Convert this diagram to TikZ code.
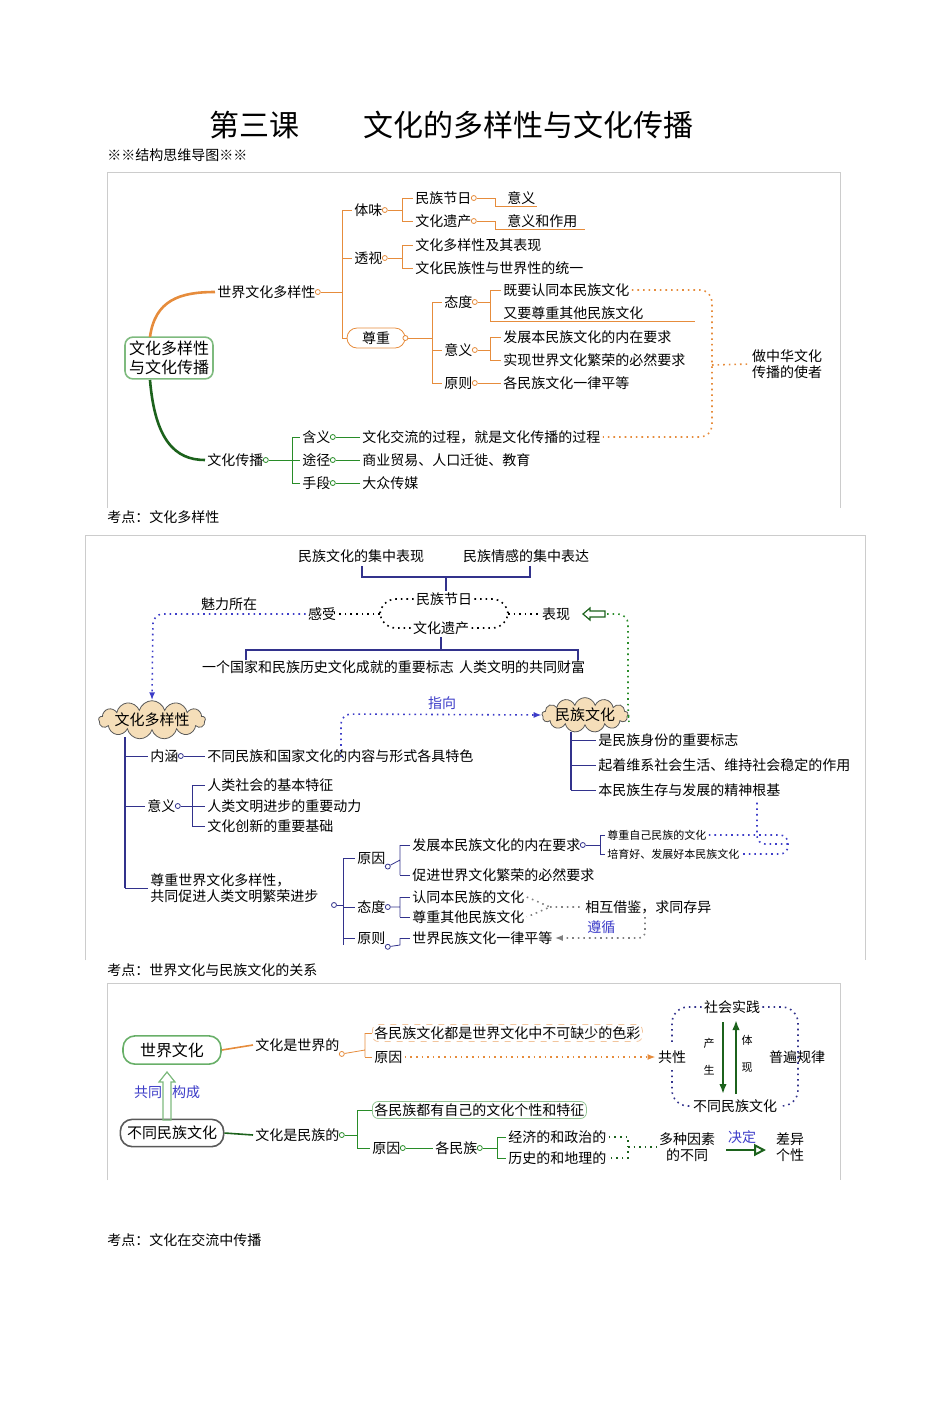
\documentclass[tikz,border=0pt]{standalone}
\usepackage{fontspec}
\setmainfont{Noto Sans CJK SC}
\usetikzlibrary{arrows.meta,shapes.symbols}
\definecolor{org}{RGB}{230,140,60}
\definecolor{grn}{RGB}{40,140,40}
\definecolor{nav}{RGB}{50,50,140}
\definecolor{blu}{RGB}{60,60,200}
\definecolor{cl}{RGB}{245,222,185}
\tikzset{x=0.5pt,y=-0.5pt,
 t/.style={anchor=west,inner sep=1pt,font=\fontsize{7}{8}\selectfont},
 tc/.style={inner sep=1pt,font=\fontsize{7}{8}\selectfont,align=center},
 o/.style={circle,draw,inner sep=0,minimum size=2.5pt,fill=white},
 dots/.style={dotted,line width=0.8pt},
 cloud0/.style={cloud,cloud puffs=13,cloud ignores aspect,draw=gray!70!black,fill=cl,inner sep=0pt,font=\fontsize{7.5}{8}\selectfont}}
\begin{document}
\begin{tikzpicture}
\path[use as bounding box] (0,0) rectangle (950,1421);
% titles
\node[font=\fontsize{15}{16}\selectfont] (tt1) at (254,125) {第三课};
\node[font=\fontsize{15}{16}\selectfont] (tt2) at (528,125) {文化的多样性与文化传播};
\node[t] (sub) at (105,155) {※※结构思维导图※※};
\node[t] (k1) at (105,517) {考点：文化多样性};
\node[t] (k2) at (105,970) {考点：世界文化与民族文化的关系};
\node[t] (k3) at (105,1240) {考点：文化在交流中传播};
% ===== diagram 1 =====
\draw[gray!40] (107,508)--(107,172)--(840,172)--(840,508);
\node[draw=grn!60,rounded corners=4pt,line width=0.8pt,align=left,font=\fontsize{8}{9.5}\selectfont,inner sep=2pt] (root) at (169,358) {文化多样性\\与文化传播};
\node[t] (w) at (215,292) {世界文化多样性};
\draw[org,line width=1.3pt] (150,337) .. controls (155,300) and (180,292) .. (w.west);
\node[o,draw=org] (wo) at (w.east) {};
\draw[org] (wo) -- (342,292);
\draw[org] (342,210)--(342,338);
\node[t] (tw) at (352,210) {体味}; \node[o,draw=org] (two) at (tw.east) {};
\node[t] (ts) at (352,258) {透视}; \node[o,draw=org] (tso) at (ts.east) {};
\node[draw=org,rounded corners=5pt,minimum width=29pt,minimum height=10pt,tc] (zz) at (376,338) {尊重}; \node[o,draw=org] (zzo) at (zz.east) {};
\draw[org] (342,210)--(tw.west) (342,258)--(ts.west) (342,338)--(zz.west);
\draw[org] (two)--(402,210) (402,198)--(402,221);
\node[t] (a1) at (413,198) {民族节日}; \node[o,draw=org] (a1o) at (a1.east) {};
\node[t] (a2) at (413,221) {文化遗产}; \node[o,draw=org] (a2o) at (a2.east) {};
\draw[org] (402,198)--(a1.west) (402,221)--(a2.west);
\node[t] (b1) at (505,198) {意义}; \node[t] (b2) at (505,221) {意义和作用};
\draw[org] (a1o)--(495,198)--(495,206)--(537,206); \draw[org] (a2o)--(495,221)--(495,229)--(585,229);
\draw[org] (tso)--(402,258) (402,245)--(402,268);
\node[t] (c1) at (413,245) {文化多样性及其表现}; \node[t] (c2) at (413,268) {文化民族性与世界性的统一};
\draw[org] (402,245)--(c1.west) (402,268)--(c2.west);
\draw[org] (zzo)--(432,338) (432,302)--(432,383);
\node[t] (d1) at (442,302) {态度}; \node[o,draw=org] (d1o) at (d1.east) {};
\node[t] (d2) at (442,350) {意义}; \node[o,draw=org] (d2o) at (d2.east) {};
\node[t] (d3) at (442,383) {原则}; \node[o,draw=org] (d3o) at (d3.east) {};
\draw[org] (432,302)--(d1.west) (432,350)--(d2.west) (432,383)--(d3.west);
\draw[org] (d1o)--(490,302) (490,290)--(490,321)--(695,321) (d2o)--(490,350) (490,337)--(490,360);
\node[t] (e1) at (501,290) {既要认同本民族文化}; \node[t] (e2) at (501,313) {又要尊重其他民族文化};
\node[t] (e3) at (501,337) {发展本民族文化的内在要求}; \node[t] (e4) at (501,360) {实现世界文化繁荣的必然要求};
\node[t] (e5) at (501,383) {各民族文化一律平等};
\draw[org] (490,290)--(e1.west) (490,337)--(e3.west) (490,360)--(e4.west) (d3o)--(e5.west);
\node[tc,align=left] (sz) at (787,364) {做中华文化\\传播的使者};
\node[t] (g) at (205,460) {文化传播}; \node[o,draw=grn] (go) at (g.east) {};
\draw[grn!70!black,line width=1.3pt] (150,380) .. controls (155,440) and (175,460) .. (g.west);
\draw[grn] (go)--(292,460) (292,437)--(292,483);
\foreach \y/\a/\b/\n in {437/含义/文化交流的过程，就是文化传播的过程/1,460/途径/商业贸易、人口迁徙、教育/2,483/手段/大众传媒/3}{
 \node[t] (h\n) at (300,\y) {\a}; \node[o,draw=grn] (ho\n) at (h\n.east) {};
 \node[t] (i\n) at (360,\y) {\b};
 \draw[grn] (292,\y)--(h\n.west) (ho\n)--(i\n.west);}
\draw[org,dots,rounded corners=6pt] (e1.east)--(712,290)--(712,437)--(i1.east);
\draw[org,dots] (712,365)--(sz.west);
% ===== diagram 2 =====
\draw[gray!40] (85,960)--(85,535)--(865,535)--(865,960);
\node[tc] (m1) at (361,556) {民族文化的集中表现}; \node[tc] (m2) at (526,556) {民族情感的集中表达};
\draw[nav,line width=0.8pt] (362,566)--(362,577)--(530,577)--(530,566) (446,577)--(446,591);
\node[tc] (jr) at (444,599) {民族节日}; \node[tc] (yc) at (441,628) {文化遗产};
\draw[dots,rounded corners=8pt] (jr.west)--(380,599)--(380,628)--(yc.west) (jr.east)--(508,599)--(508,628)--(yc.east);
\node[tc] (gs) at (322,614) {感受}; \node[tc] (bx) at (556,614) {表现};
\draw[dots] (380,614)--(gs.east) (508,614)--(bx.west);
\draw[nav,line width=0.8pt] (yc.south)--(441,650) (246,660)--(246,650)--(578,650)--(578,660);
\node[tc] (bz) at (328,667) {一个国家和民族历史文化成就的重要标志}; \node[tc] (cf) at (522,667) {人类文明的共同财富};
\node[tc] (ml) at (229,604) {魅力所在};
\node[cloud0,minimum width=53pt,minimum height=18pt] (dy) at (152,720) {文化多样性};
\node[cloud0,minimum width=37pt,minimum height=16pt] (mz) at (585,715) {民族文化};
\draw[blu,dots,-{Latex[length=4pt]},rounded corners=5pt] (gs.west)--(153,614)--(dy.north);
\draw[grn,dots,rounded corners=5pt] (607,614)--(628,614)--(628,712)--(mz.east);
\draw[grn!70!black,line width=0.6pt] (605,611)--(590,611)--(590,608)--(583,614)--(590,620)--(590,617)--(605,617)--cycle;
\node[tc,text=blu] (zx) at (442,703) {指向};
\draw[blu,dots,-{Latex[length=4pt]},rounded corners=5pt] (341,757)--(341,714)--(mz.west);
\draw[nav,line width=0.8pt] (125,737)--(125,888);
\node[t] (nh) at (148,756) {内涵}; \node[o,draw=nav] (nho) at (nh.east) {};
\node[t] (nh1) at (205,756) {不同民族和国家文化的内容与形式各具特色};
\draw[nav] (125,756)--(nh.west) (nho)--(nh1.west);
\node[t] (yy) at (145,806) {意义}; \node[o,draw=nav] (yyo) at (yy.east) {};
\draw[nav] (125,806)--(yy.west) (yyo)--(192,806) (192,785)--(192,826);
\foreach \y/\s/\n in {785/人类社会的基本特征/1,806/人类文明进步的重要动力/2,826/文化创新的重要基础/3}{\node[t] (yy\n) at (205,\y) {\s}; \draw[nav] (192,\y)--(yy\n.west);}
\node[t,align=left] (zs) at (148,888) {尊重世界文化多样性，\\共同促进人类文明繁荣进步};
\draw[nav] (125,888)--(148,888);
\draw[nav,line width=0.8pt] (571,732)--(571,790);
\foreach \y/\s/\n in {740/是民族身份的重要标志/1,765/起着维系社会生活、维持社会稳定的作用/2,790/本民族生存与发展的精神根基/3}{\node[t] (mz\n) at (596,\y) {\s}; \draw[nav] (571,\y)--(mz\n.west);}
\node[o,draw=nav] (zso) at (334,905) {};
\draw[nav] (zso)--(343,905) (343,858)--(343,945);
\node[t] (r1) at (355,858) {原因}; \node[o,draw=nav] (r1o) at (r1.south east) {};
\node[t] (r2) at (355,907) {态度}; \node[o,draw=nav] (r2o) at (r2.east) {};
\node[t] (r3) at (355,938) {原则}; \node[o,draw=nav] (r3o) at (r3.south east) {};
\draw[nav] (343,858)--(r1.west) (343,907)--(r2.west) (343,938)--(r3.west);
\draw[nav] (r1o)--(400,860) (400,845)--(400,875) (r2o)--(400,907) (400,897)--(400,917) (r3o)--(400,945)--(400,938);
\node[t] (s1) at (410,845) {发展本民族文化的内在要求}; \node[o,draw=nav] (s1o) at (s1.east) {};
\node[t] (s2) at (410,875) {促进世界文化繁荣的必然要求};
\node[t] (s3) at (410,897) {认同本民族的文化}; \node[t] (s4) at (410,917) {尊重其他民族文化};
\node[t] (s5) at (410,938) {世界民族文化一律平等};
\draw[nav] (400,845)--(s1.west) (400,875)--(s2.west) (400,897)--(s3.west) (400,917)--(s4.west) (400,938)--(s5.west);
\draw[nav] (s1o)--(600,845) (600,835)--(600,854);
\node[t,font=\fontsize{5.5}{6}\selectfont] (u1) at (605,835) {尊重自己民族的文化};
\node[t,font=\fontsize{5.5}{6}\selectfont] (u2) at (605,854) {培育好、发展好本民族文化};
\draw[nav] (600,835)--(u1.west) (600,854)--(u2.west);
\draw[blu,dots,rounded corners=4pt] (u1.east)--(788,835)--(788,854)--(u2.east) (788,844)--(757,844)--(mz3.south -| 757,0);
\node[t] (xh) at (583,907) {相互借鉴，求同存异};
\draw[gray,dots] (s3.east)--(550,907)--(s4.east) (550,907)--(xh.west);
\node[t,text=blu] (zxx) at (585,927) {遵循};
\draw[gray,dots,-{Latex[length=4pt]},rounded corners=3pt] (645,917)--(645,938)--(s5.east);
% ===== diagram 3 =====
\draw[gray!40] (107,1180)--(107,983)--(840,983)--(840,1180);
\node[draw=grn!70,rounded corners=6pt,line width=0.8pt,minimum width=49pt,minimum height=14pt,font=\fontsize{8}{9}\selectfont] (sj) at (172,1050) {世界文化};
\node[draw=gray!70!black,rounded corners=6pt,line width=0.8pt,minimum width=49pt,minimum height=12pt,font=\fontsize{7.5}{8}\selectfont] (bt) at (172,1133) {不同民族文化};
\draw[grn!60,line width=0.6pt] (163,1120)--(163,1082)--(159,1082)--(167,1072)--(175,1082)--(171,1082)--(171,1120)--cycle;
\node[tc,text=blu] (gt) at (148,1092) {共同}; \node[tc,text=blu] (gc) at (186,1092) {构成};
\node[t] (sj1) at (253,1045) {文化是世界的}; \node[o,draw=org] (sj1o) at (sj1.south east) {};
\draw[org,line width=0.8pt] (sj.east)--(sj1.west);
\draw[org] (sj1o)--(365,1050) (365,1033)--(365,1057);
\node[t,draw=org!50,dashed,rounded corners=3pt] (q1) at (372,1033) {各民族文化都是世界文化中不可缺少的色彩};
\node[t] (q2) at (372,1057) {原因};
\draw[org] (365,1033)--(q1.west) (365,1057)--(q2.west);
\node[tc] (gx) at (672,1057) {共性};
\draw[org,dots,-{Latex[length=4pt]}] (q2.east)--(gx.west);
\node[t] (mz3a) at (253,1135) {文化是民族的}; \node[o,draw=grn] (mzo) at (mz3a.east) {};
\draw[grn!70!black,line width=0.8pt] (bt.east)--(mz3a.west);
\draw[grn] (mzo)--(357,1135) (357,1110)--(357,1148);
\node[t,draw=grn!50,rounded corners=3pt] (p1) at (372,1110) {各民族都有自己的文化个性和特征};
\node[t] (p2) at (370,1148) {原因}; \node[o,draw=grn] (p2o) at (p2.east) {};
\node[t] (p3) at (433,1148) {各民族}; \node[o,draw=grn] (p3o) at (p3.east) {};
\draw[grn] (357,1110)--(p1.west) (357,1148)--(p2.west) (p2o)--(p3.west) (p3o)--(497,1148) (497,1137)--(497,1158);
\node[t] (f1) at (506,1137) {经济的和政治的}; \node[t] (f2) at (506,1158) {历史的和地理的};
\draw[grn] (497,1137)--(f1.west) (497,1158)--(f2.west);
\node[tc] (dz) at (687,1147) {多种因素\\的不同};
\draw[grn!70!black,dots] (f1.east)--(628,1137)--(628,1158)--(f2.east) (628,1147)--(dz.west);
\node[tc,text=blu] (jd) at (742,1137) {决定};
\draw[grn!70!black,line width=1pt,-{Triangle[open,length=6pt,width=6pt]}] (726,1150)--(766,1150);
\node[tc] (cy) at (790,1147) {差异\\个性};
\node[tc] (sh) at (732,1007) {社会实践}; \node[tc] (bm) at (735,1106) {不同民族文化};
\node[tc] (pb) at (797,1057) {普遍规律};
\draw[nav,dots,rounded corners=8pt] (sh.west)--(672,1007)--(672,1045) (672,1070)--(672,1106)--(bm.west);
\draw[nav,dots,rounded corners=8pt] (sh.east)--(798,1007)--(798,1106)--(bm.east);
\draw[grn!70!black,line width=1.2pt,-{Latex[length=5pt]}] (723,1022)--(723,1094);
\draw[grn!70!black,line width=1.2pt,-{Latex[length=5pt]}] (736,1094)--(736,1020);
\node[tc,font=\fontsize{5.5}{6}\selectfont] (c1) at (709,1043) {产}; \node[tc,font=\fontsize{5.5}{6}\selectfont] (c2) at (709,1070) {生};
\node[tc,font=\fontsize{5.5}{6}\selectfont] (c3) at (747,1040) {体}; \node[tc,font=\fontsize{5.5}{6}\selectfont] (c4) at (747,1068) {现};
\end{tikzpicture}
\end{document}
